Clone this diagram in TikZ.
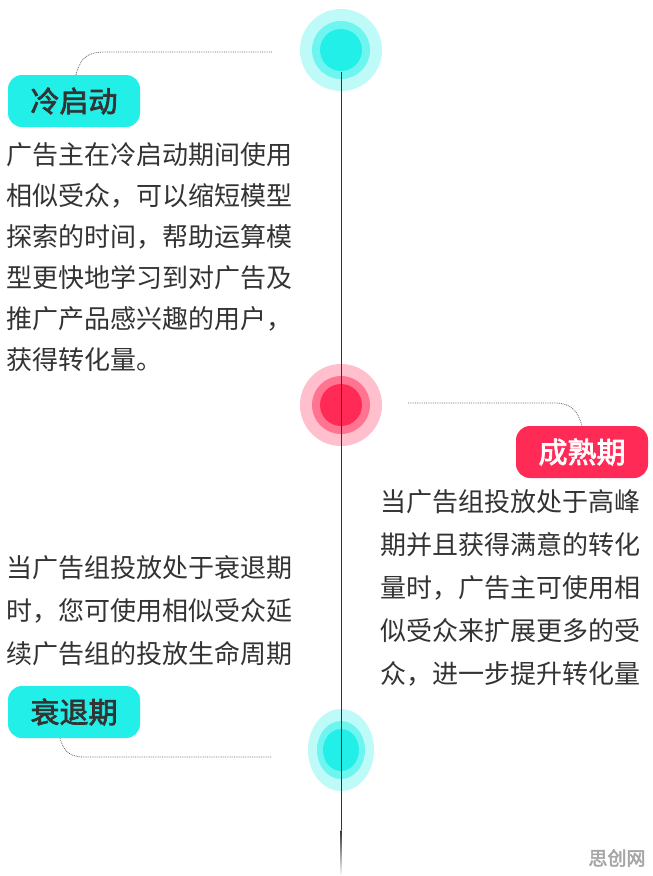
\documentclass[tikz,border=0pt]{standalone}
\usepackage{fontspec}
\setmainfont{Noto Sans CJK SC}
\newfontfamily\cjkb{Noto Sans CJK SC}[FakeBold=2.5]
\definecolor{cy}{HTML}{22F0E8}
\definecolor{rd}{HTML}{FF2A55}
\definecolor{tx}{HTML}{333333}
\tikzset{
 lab/.style={rounded corners=14pt,minimum width=132pt,minimum height=52pt,inner sep=0pt,font=\cjkb\fontsize{29}{29}\selectfont},
 body/.style={anchor=north west,align=left,text=tx,inner sep=0pt,font=\fontsize{26}{41}\selectfont},
 conn/.style={densely dotted,gray!80!black,line width=0.8pt}
}
\begin{document}
\begin{tikzpicture}[x=1pt,y=-1pt]
\useasboundingbox (0,0) rectangle (653,876);
\fill[white] (0,0) rectangle (653,876);
% circles
\foreach \y/\c in {50/cy,405/rd}{
 \fill[\c!30] (341,\y) circle (41);
 \fill[\c!65] (341,\y) circle (29);
 \fill[\c] (341,\y) circle (21);
}
\fill[cy!30] (341,750) ellipse (33 and 41);
\fill[cy!65] (341,750) ellipse (24 and 29);
\fill[cy] (341,750) ellipse (18 and 21);
% axis
\draw[line width=1pt,black!80] (341,72) -- (341,830);
\shade[top color=black!80,bottom color=white] (340.5,830) rectangle (341.5,876);
% labels
\node[lab,fill=cy,text=tx] (c1) at (74,101) {冷启动};
\node[lab,fill=rd,text=white] (c2) at (582,452) {成熟期};
\node[lab,fill=cy,text=tx] (c3) at (74,712) {衰退期};
\coordinate (e1) at (272,52);
\coordinate (e2) at (408,403);
\coordinate (e3) at (272,757);
\draw[conn] (c1.north) ++(2,0) .. controls (80,60) and (85,52) .. (105,52) -- (e1);
\draw[conn] (e2) -- (555,403) .. controls (572,403) and (578,412) .. (c2.north);
\draw[conn] (c3.south) ++(-14,0) .. controls (64,752) and (70,757) .. (85,757) -- (e3);
% body texts
\node[body] (t1) at (6,142) {广告主在冷启动期间使用\\相似受众，可以缩短模型\\探索的时间，帮助运算模\\型更快地学习到对广告及\\推广产品感兴趣的用户，\\获得转化量。};
\node[body,font=\fontsize{26}{43}\selectfont] (t2) at (380,489) {当广告组投放处于高峰\\期并且获得满意的转化\\量时，广告主可使用相\\似受众来扩展更多的受\\众，进一步提升转化量};
\node[body,font=\fontsize{26}{43}\selectfont] (t3) at (6,555) {当广告组投放处于衰退期\\时，您可使用相似受众延\\续广告组的投放生命周期};
\node[text=gray!70,font=\cjkb\fontsize{19}{19}\selectfont] (wm) at (617,858) {思创网};
\end{tikzpicture}
\end{document}
